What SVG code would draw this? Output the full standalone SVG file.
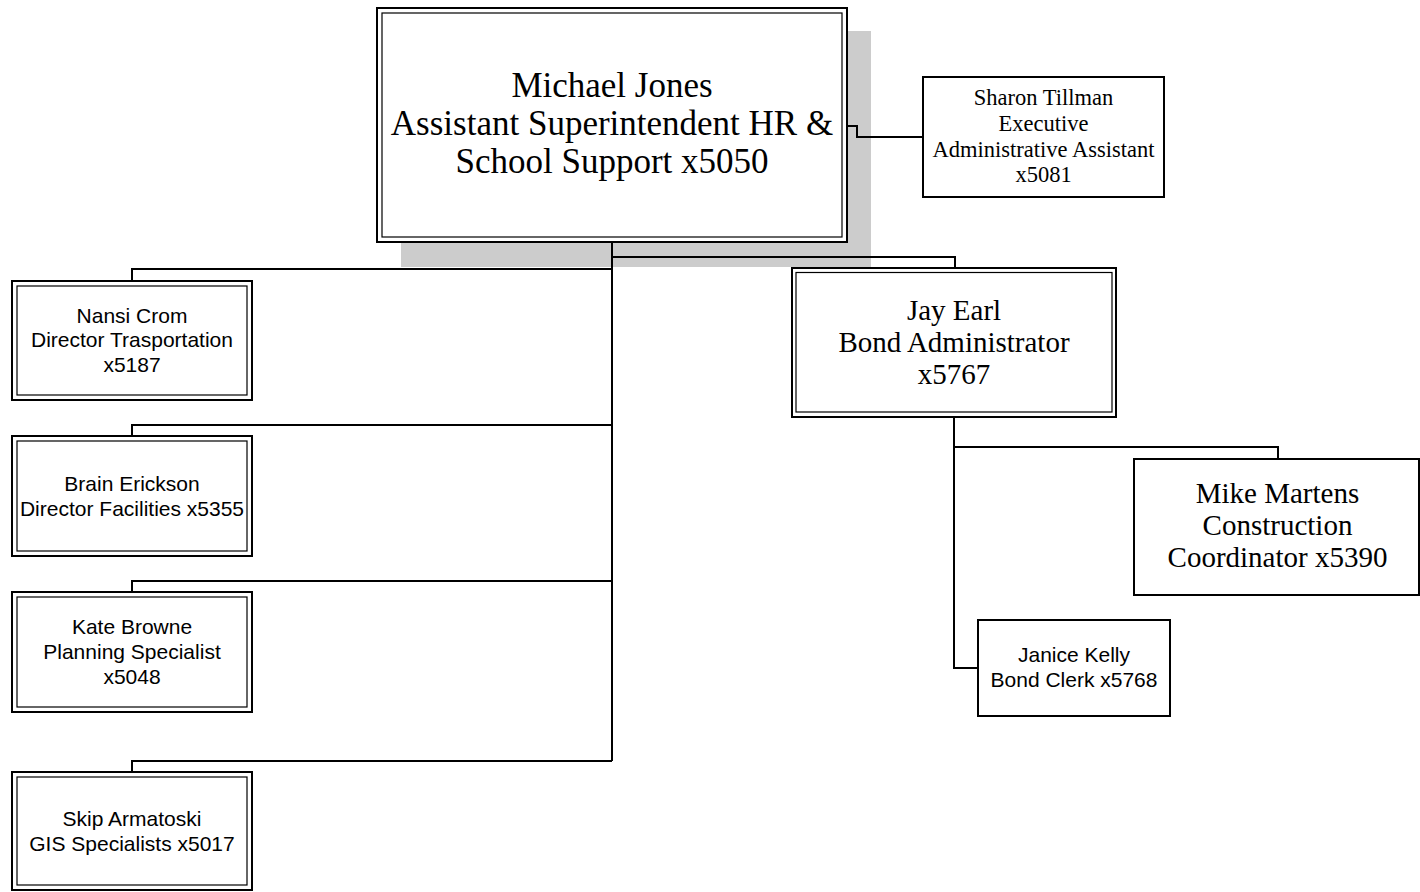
<svg xmlns="http://www.w3.org/2000/svg" width="1420" height="892" viewBox="0 0 1420 892">
  <style>
    .frame { fill: #ffffff; stroke: #000000; stroke-width: 2; }
    .inner { fill: none; stroke: #000000; stroke-width: 1.2; }
    .shadow { fill: #cccccc; stroke: none; }
    .link { fill: none; stroke: #000000; stroke-width: 2; }
    .serif { font-family: "Liberation Serif", "Times New Roman", serif; fill: #000000; text-anchor: middle; }
    .sans { font-family: "Liberation Sans", Arial, sans-serif; font-size: 21px; fill: #000000; text-anchor: middle; }
  </style>
  <rect x="0" y="0" width="1420" height="892" fill="#ffffff"/>

  <!-- head of department, with drop shadow (drawn first so the lines sit on top of the shadow) -->
  <g id="michael-jones">
    <rect class="shadow" x="401" y="31" width="470" height="236"/>
    <rect class="frame" x="377" y="8" width="470" height="234"/>
    <rect class="inner" x="382" y="13" width="460" height="224"/>
    <text class="serif" font-size="35" x="612" y="97">Michael Jones</text>
    <text class="serif" font-size="35" x="612" y="135">Assistant Superintendent HR &amp;</text>
    <text class="serif" font-size="35" x="612" y="173">School Support x5050</text>
  </g>

  <!-- connectors -->
  <g id="connectors">
    <path class="link" d="M612 242 V761"/>
    <path class="link" d="M612 257 H955 V268"/>
    <path class="link" d="M612 269 H132 V281"/>
    <path class="link" d="M612 425 H132 V436"/>
    <path class="link" d="M612 581 H132 V592"/>
    <path class="link" d="M612 761 H132 V772"/>
    <path class="link" d="M847 126 H857 V137 H923"/>
    <path class="link" d="M954 417 V668 H978"/>
    <path class="link" d="M954 447 H1278 V459"/>
  </g>

  <g id="sharon-tillman">
    <rect class="frame" x="923" y="77" width="241" height="120"/>
    <text class="serif" font-size="22.5" x="1043.5" y="105">Sharon Tillman</text>
    <text class="serif" font-size="22.5" x="1043.5" y="131">Executive</text>
    <text class="serif" font-size="22.5" x="1043.5" y="157">Administrative Assistant</text>
    <text class="serif" font-size="22.5" x="1043.5" y="182">x5081</text>
  </g>

  <g id="nansi-crom">
    <rect class="frame" x="12" y="281" width="240" height="119"/>
    <rect class="inner" x="17" y="286" width="230" height="109"/>
    <text class="sans" x="132" y="323">Nansi Crom</text>
    <text class="sans" x="132" y="347">Director Trasportation</text>
    <text class="sans" x="132" y="372">x5187</text>
  </g>

  <g id="brain-erickson">
    <rect class="frame" x="12" y="436" width="240" height="120"/>
    <rect class="inner" x="17" y="441" width="230" height="110"/>
    <text class="sans" x="132" y="491">Brain Erickson</text>
    <text class="sans" x="132" y="516">Director Facilities x5355</text>
  </g>

  <g id="kate-browne">
    <rect class="frame" x="12" y="592" width="240" height="120"/>
    <rect class="inner" x="17" y="597" width="230" height="110"/>
    <text class="sans" x="132" y="634">Kate Browne</text>
    <text class="sans" x="132" y="659">Planning Specialist</text>
    <text class="sans" x="132" y="684">x5048</text>
  </g>

  <g id="skip-armatoski">
    <rect class="frame" x="12" y="772" width="240" height="118"/>
    <rect class="inner" x="17" y="777" width="230" height="108"/>
    <text class="sans" x="132" y="826">Skip Armatoski</text>
    <text class="sans" x="132" y="851">GIS Specialists x5017</text>
  </g>

  <g id="jay-earl">
    <rect class="frame" x="792" y="268" width="324" height="149"/>
    <rect class="inner" x="796" y="272.5" width="316" height="139.5"/>
    <text class="serif" font-size="29" x="954" y="320">Jay Earl</text>
    <text class="serif" font-size="29" x="954" y="352">Bond Administrator</text>
    <text class="serif" font-size="29" x="954" y="384">x5767</text>
  </g>

  <g id="mike-martens">
    <rect class="frame" x="1134" y="459" width="285" height="136"/>
    <text class="serif" font-size="29" x="1277.5" y="503">Mike Martens</text>
    <text class="serif" font-size="29" x="1277.5" y="535">Construction</text>
    <text class="serif" font-size="29" x="1277.5" y="567">Coordinator x5390</text>
  </g>

  <g id="janice-kelly">
    <rect class="frame" x="978" y="620" width="192" height="96"/>
    <text class="sans" x="1074" y="662">Janice Kelly</text>
    <text class="sans" x="1074" y="687">Bond Clerk x5768</text>
  </g>
</svg>
